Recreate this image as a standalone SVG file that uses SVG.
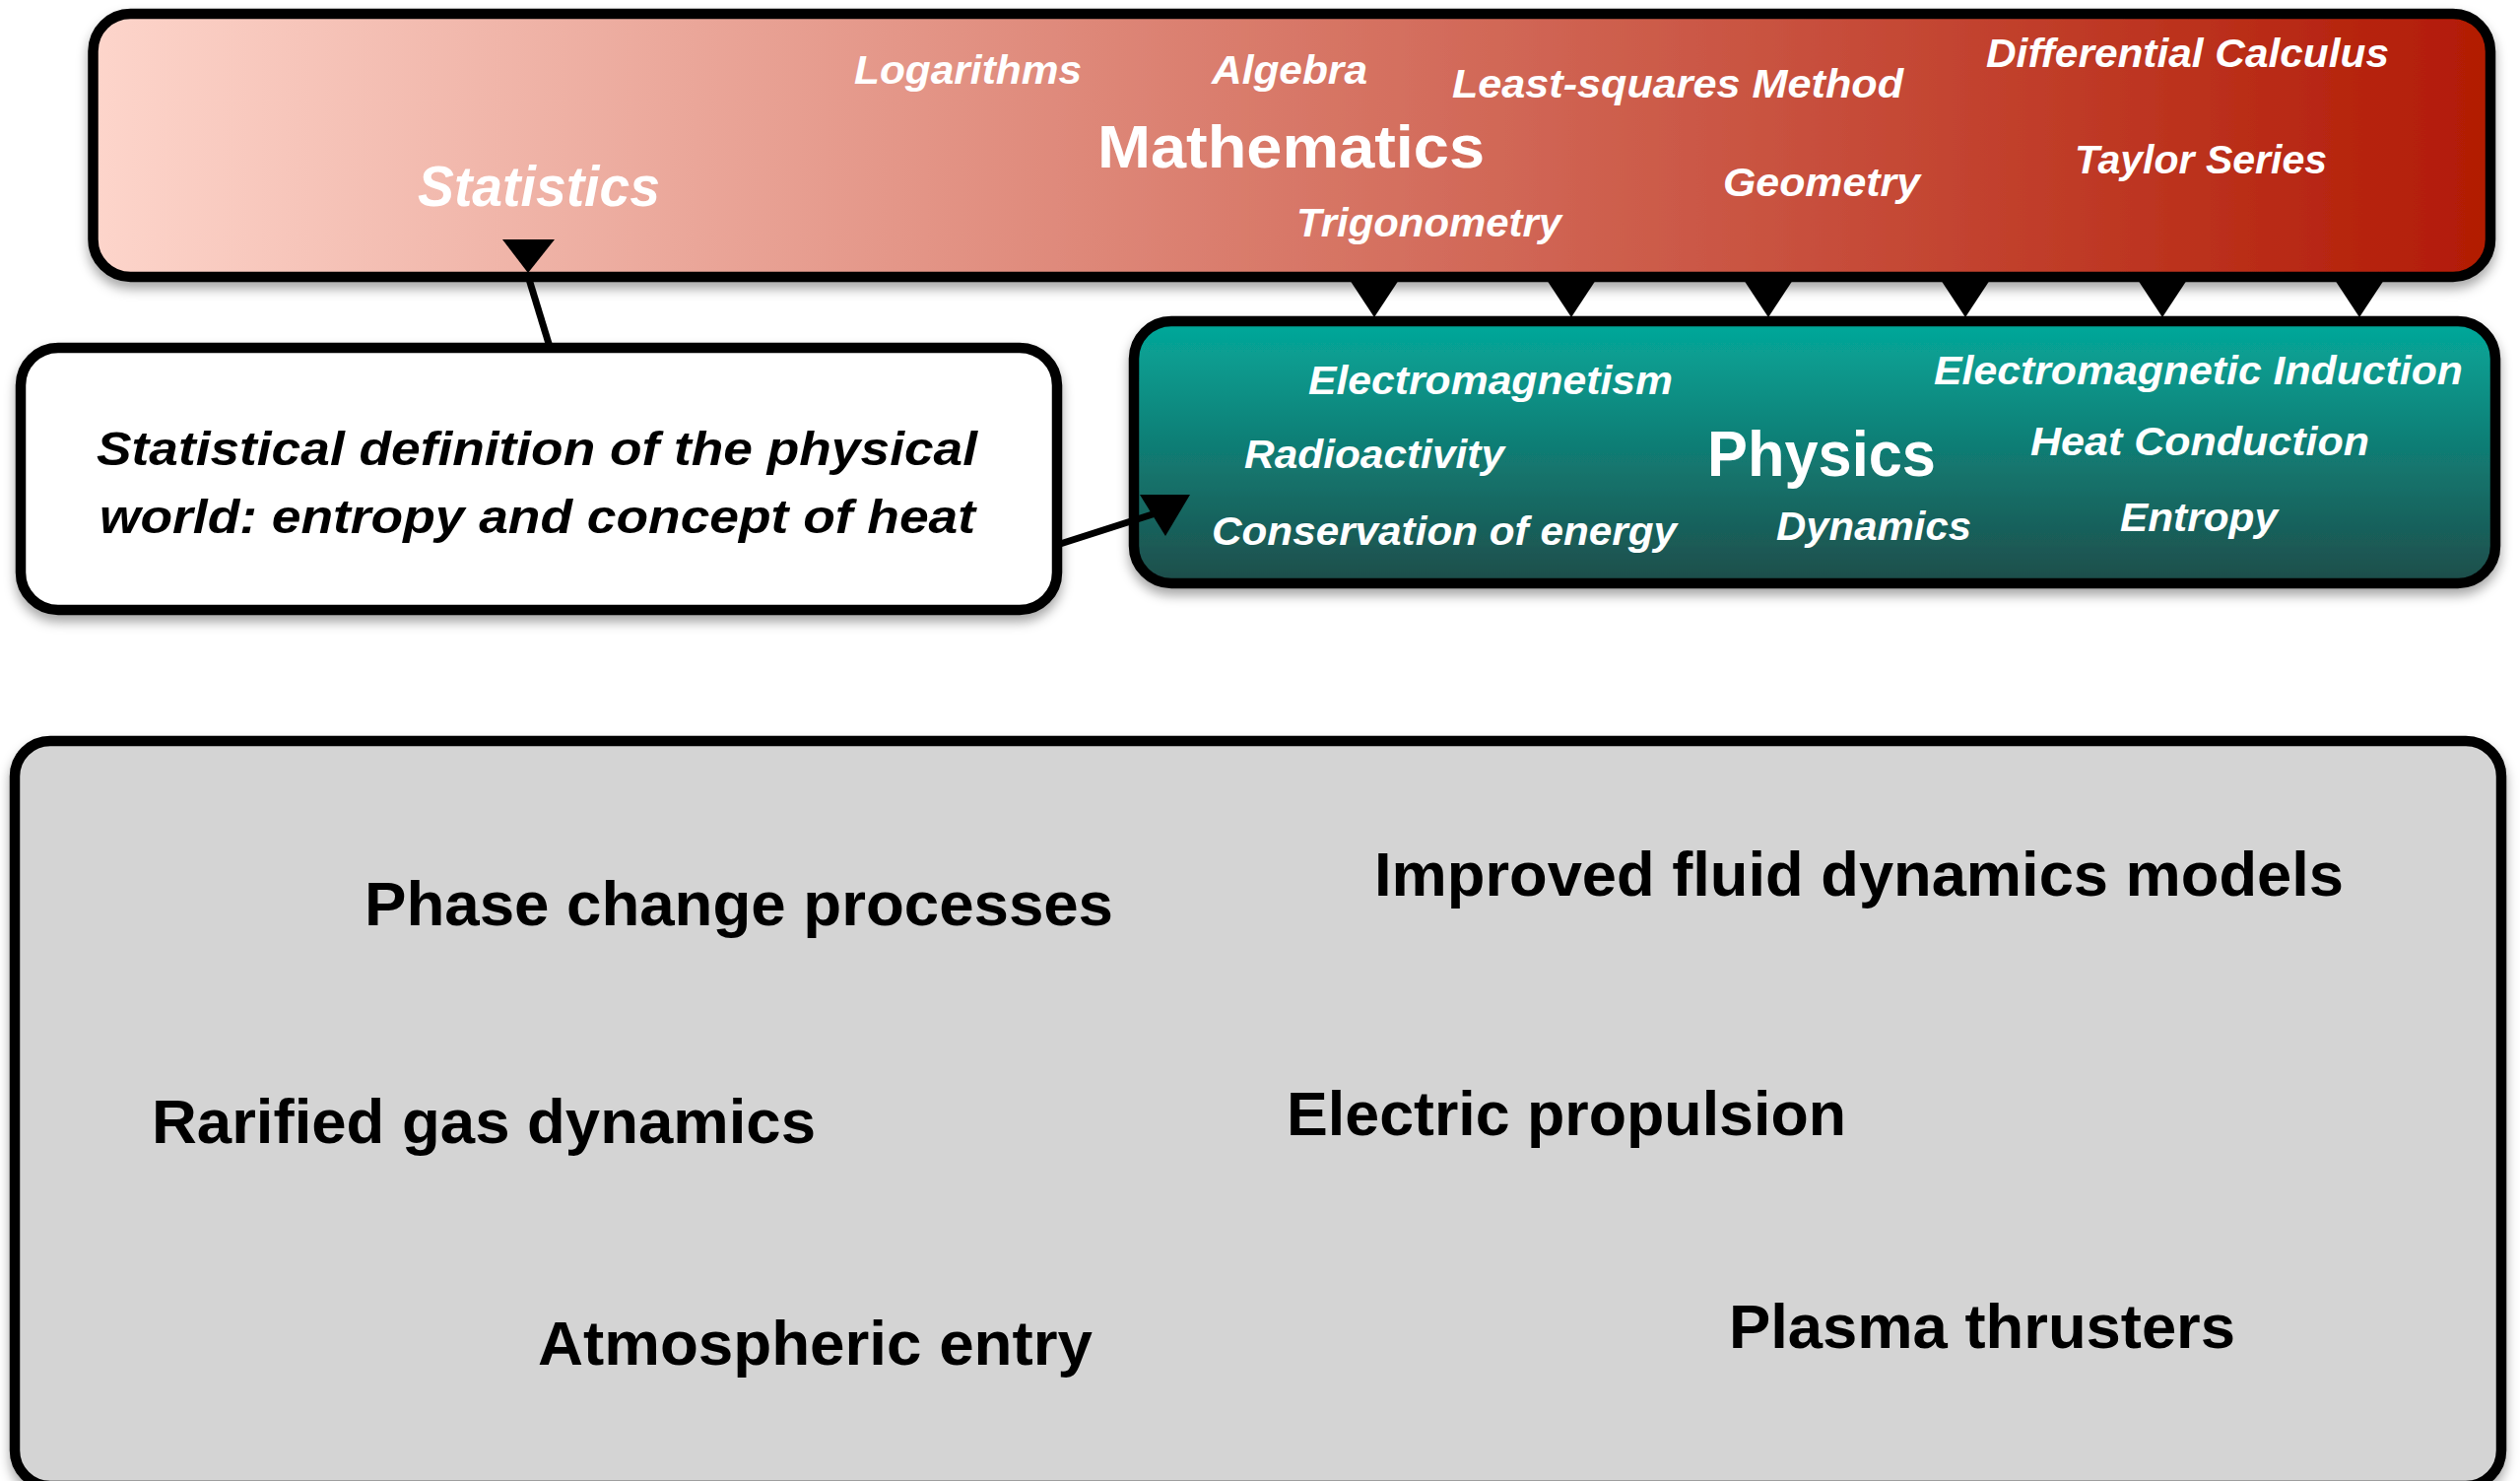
<svg xmlns="http://www.w3.org/2000/svg" width="2558" height="1503" viewBox="0 0 2558 1503">
<defs>
<linearGradient id="gMath" x1="0" y1="0" x2="1" y2="0">
<stop offset="0" stop-color="#FDD5CB"/>
<stop offset="1" stop-color="#B21A04"/>
</linearGradient>
<linearGradient id="gPhys" x1="0" y1="0" x2="0" y2="1">
<stop offset="0" stop-color="#04A99B"/>
<stop offset="1" stop-color="#1E4D4A"/>
</linearGradient>
<filter id="sh" x="-5%" y="-10%" width="110%" height="130%">
<feDropShadow dx="0" dy="7" stdDeviation="6" flood-color="#000" flood-opacity="0.35"/>
</filter>
<style>
.box{stroke:#000;stroke-width:10.5}
.lab{font-family:"Liberation Sans",Arial,sans-serif;font-weight:bold;font-style:italic;fill:#fff;font-size:40px}
.big{font-family:"Liberation Sans",Arial,sans-serif;font-weight:bold;fill:#fff}
.wt{font-family:"Liberation Sans",Arial,sans-serif;font-weight:bold;font-style:italic;fill:#000;font-size:49px}
.gt{font-family:"Liberation Sans",Arial,sans-serif;font-weight:bold;fill:#000;font-size:63px}
.ln{stroke:#000;stroke-width:7;fill:none}
.hd{fill:#000}
</style>
</defs>
<g id="applications">
<rect class="box" x="15" y="752" width="2524" height="756" rx="36" fill="#D4D4D4" filter="url(#sh)"/>
<text class="gt" x="370" y="939" textLength="760" lengthAdjust="spacingAndGlyphs">Phase change processes</text>
<text class="gt" x="1395" y="909" textLength="984" lengthAdjust="spacingAndGlyphs">Improved fluid dynamics models</text>
<text class="gt" x="154" y="1160" textLength="674" lengthAdjust="spacingAndGlyphs">Rarified gas dynamics</text>
<text class="gt" x="1306" y="1152" textLength="568" lengthAdjust="spacingAndGlyphs">Electric propulsion</text>
<text class="gt" x="546" y="1385" textLength="563" lengthAdjust="spacingAndGlyphs">Atmospheric entry</text>
<text class="gt" x="1755" y="1368" textLength="514" lengthAdjust="spacingAndGlyphs">Plasma thrusters</text>
</g>
<g id="mathematics">
<rect class="box" x="94.5" y="14" width="2433.5" height="267" rx="38" fill="url(#gMath)" filter="url(#sh)"/>
<text class="lab" x="424" y="209" style="font-size:57px" textLength="246" lengthAdjust="spacingAndGlyphs">Statistics</text>
<text class="lab" x="867" y="85" textLength="231" lengthAdjust="spacingAndGlyphs">Logarithms</text>
<text class="lab" x="1230" y="85" textLength="158" lengthAdjust="spacingAndGlyphs">Algebra</text>
<text class="lab" x="1474" y="99" textLength="458" lengthAdjust="spacingAndGlyphs">Least-squares Method</text>
<text class="big" x="1114" y="170" style="font-size:61px" textLength="393" lengthAdjust="spacingAndGlyphs">Mathematics</text>
<text class="lab" x="1316" y="240" textLength="269" lengthAdjust="spacingAndGlyphs">Trigonometry</text>
<text class="lab" x="2016" y="68" textLength="409" lengthAdjust="spacingAndGlyphs">Differential Calculus</text>
<text class="lab" x="1749" y="199" textLength="200" lengthAdjust="spacingAndGlyphs">Geometry</text>
<text class="lab" x="2106" y="176" textLength="256" lengthAdjust="spacingAndGlyphs">Taylor Series</text>
</g>
<g id="statistical-definition">
<rect class="box" x="21" y="353" width="1052" height="266" rx="38" fill="#fff" filter="url(#sh)"/>
<text class="wt" x="98" y="472" textLength="894" lengthAdjust="spacingAndGlyphs">Statistical definition of the physical</text>
<text class="wt" x="101" y="541" textLength="889" lengthAdjust="spacingAndGlyphs">world: entropy and concept of heat</text>
</g>
<g id="physics">
<rect class="box" x="1151" y="326" width="1382" height="266" rx="38" fill="url(#gPhys)" filter="url(#sh)"/>
<text class="lab" x="1328" y="400" textLength="370" lengthAdjust="spacingAndGlyphs">Electromagnetism</text>
<text class="lab" x="1263" y="475" textLength="264" lengthAdjust="spacingAndGlyphs">Radioactivity</text>
<text class="lab" x="1230" y="553" textLength="472" lengthAdjust="spacingAndGlyphs">Conservation of energy</text>
<text class="lab" x="1963" y="390" textLength="537" lengthAdjust="spacingAndGlyphs">Electromagnetic Induction</text>
<text class="big" x="1733" y="483" style="font-size:64px" textLength="232" lengthAdjust="spacingAndGlyphs">Physics</text>
<text class="lab" x="2061" y="462" textLength="344" lengthAdjust="spacingAndGlyphs">Heat Conduction</text>
<text class="lab" x="1803" y="548" textLength="198" lengthAdjust="spacingAndGlyphs">Dynamics</text>
<text class="lab" x="2152" y="539" textLength="160" lengthAdjust="spacingAndGlyphs">Entropy</text>
</g>
<g id="connectors">
<line class="ln" x1="536" y1="280" x2="558" y2="352"/>
<polygon class="hd" points="510,243 563,243 536,277"/>
<line class="ln" x1="1073" y1="553" x2="1176" y2="520"/>
<polygon class="hd" points="1157,502 1208,502 1183,544"/>
<polygon class="hd" points="1368,281 1422,281 1395,322"/>
<polygon class="hd" points="1568,281 1622,281 1595,322"/>
<polygon class="hd" points="1768,281 1822,281 1795,322"/>
<polygon class="hd" points="1968,281 2022,281 1995,322"/>
<polygon class="hd" points="2168,281 2222,281 2195,322"/>
<polygon class="hd" points="2368,281 2422,281 2395,322"/>
</g>
</svg>
